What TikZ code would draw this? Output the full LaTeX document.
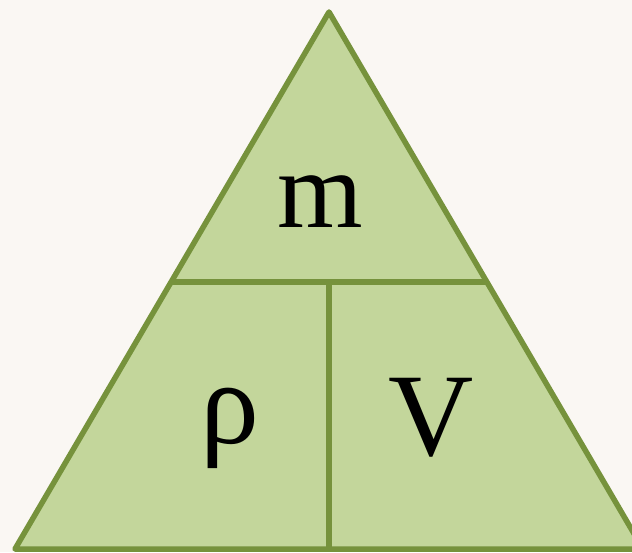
\documentclass[tikz,border=0pt]{standalone}
\usepackage{fontspec}
\setmainfont{Liberation Serif}
\usetikzlibrary{calc}
\definecolor{paper}{HTML}{FAF7F3}
\definecolor{leaf}{HTML}{C3D69B}
\definecolor{olive}{HTML}{76923C}
\begin{document}
\begin{tikzpicture}[x=1pt,y=1pt, edge/.style={draw=olive, line width=5.5pt, line join=round},
  big/.style={font=\fontsize{118}{118}\selectfont, inner sep=0pt, anchor=base}]
  \useasboundingbox[fill=paper] (0,0) rectangle (632,552);
  \clip (0,0) rectangle (632,552);
  \coordinate (top) at (329,540);
  \coordinate (bl) at (15,3);
  \coordinate (br) at (643,3);
  \filldraw[edge, fill=leaf] (top) -- (bl) -- (br) -- cycle;
  \coordinate (ml) at ($(top)!0.5028!(bl)$);
  \coordinate (mr) at ($(top)!0.5028!(br)$);
  \coordinate (mc) at (329,270);
  \coordinate (bc) at (329,3);
  \draw[edge] (ml) -- (mr);
  \draw[edge] (mc) -- (bc);
  \node[big, font=\fontsize{110}{110}\selectfont] (mass) at (320,324) {m};
  \node[big] (rho) at (230,109) {ρ};
  \node[big] (vol) at (431,97) {V};
\end{tikzpicture}
\end{document}
